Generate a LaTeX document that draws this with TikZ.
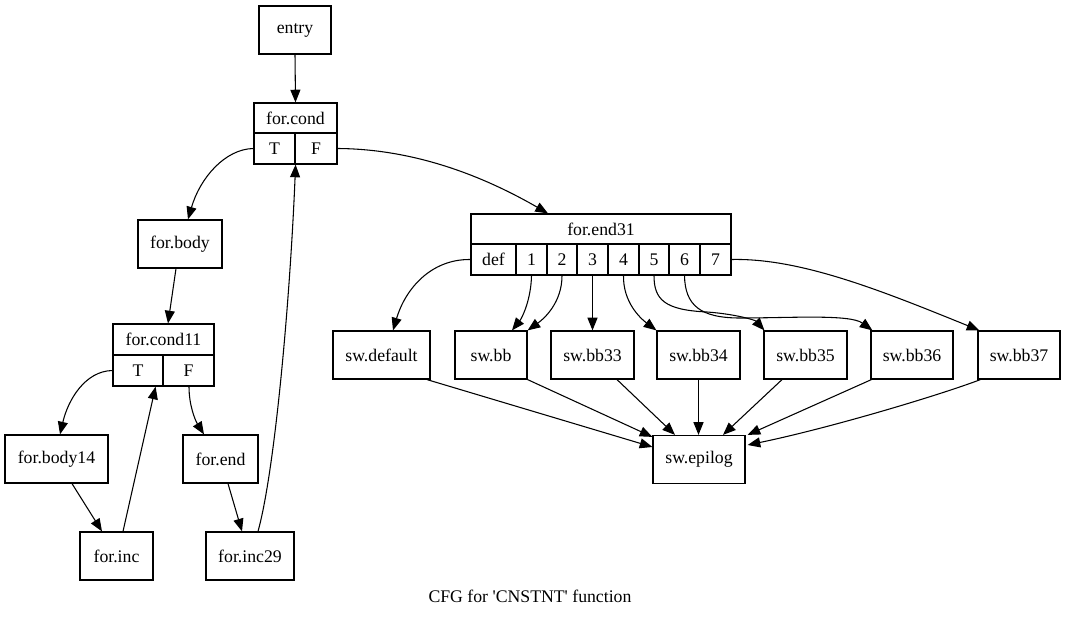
\documentclass[tikz,border=0pt]{standalone}
\usepackage{fontspec}
\setmainfont{Liberation Serif}
\usetikzlibrary{arrows.meta,calc}
\begin{document}
\begin{tikzpicture}[x=0.75pt,y=-0.75pt,
  lbl/.style={font=\fontsize{13.3}{16}\selectfont},
  box/.style={draw, line width=0.9pt, inner sep=0pt, minimum height=36pt, lbl},
  cell/.style={draw, line width=0.9pt, inner sep=0pt, minimum height=23.25pt, lbl},
  head/.style={draw, line width=0.9pt, inner sep=0pt, minimum height=22.5pt, lbl},
  edge/.style={line width=0.8pt, -{Triangle[length=9.5pt,width=7.5pt]}}]
\fill[white] (0,0) rectangle (1066,617);
\useasboundingbox (0,0) rectangle (1066,617);

% left part
\node[box, minimum width=54pt] (entry) at (295,30) {entry};
\node[head, minimum width=62.25pt] (cond) at (295.5,118) {for.cond};
\node[cell, minimum width=30.75pt] (condT) at (274.5,148.5) {T};
\node[cell, minimum width=31.5pt] (condF) at (316,148.5) {F};
\node[box, minimum width=63pt] (body) at (180,244) {for.body};
\node[cell, minimum width=75.75pt] (cond11) at (163.5,339.5) {for.cond11};
\node[cell, minimum width=37.5pt] (cond11T) at (138,370.5) {T};
\node[cell, minimum width=38.25pt] (cond11F) at (188.5,370.5) {F};
\node[box, minimum width=77.25pt] (body14) at (56.5,459) {for.body14};
\node[box, minimum width=56.25pt] (end) at (220.5,459) {for.end};
\node[box, minimum width=54.75pt] (inc) at (116.5,556) {for.inc};
\node[box, minimum width=66pt] (inc29) at (250,556) {for.inc29};

% switch record
\node[head, minimum width=195pt] (end31) at (601,229) {for.end31};
\node[cell, minimum width=33.75pt] (pdef) at (493.5,259.5) {def};
\node[cell, minimum width=23.25pt] (p1) at (531.5,259.5) {1};
\node[cell, minimum width=22.5pt] (p2) at (562,259.5) {2};
\node[cell, minimum width=23.25pt] (p3) at (592.5,259.5) {3};
\node[cell, minimum width=23.25pt] (p4) at (623.5,259.5) {4};
\node[cell, minimum width=22.5pt] (p5) at (654,259.5) {5};
\node[cell, minimum width=23.25pt] (p6) at (684.5,259.5) {6};
\node[cell, minimum width=23.25pt] (p7) at (715.5,259.5) {7};

\node[box, minimum width=72.75pt] (swdefault) at (381.5,355) {sw.default};
\node[box, minimum width=54pt] (swbb) at (491,355) {sw.bb};
\node[box, minimum width=62.25pt] (swbb33) at (592.5,355) {sw.bb33};
\node[box, minimum width=62.25pt] (swbb34) at (698.5,355) {sw.bb34};
\node[box, minimum width=62.25pt] (swbb35) at (805.5,355) {sw.bb35};
\node[box, minimum width=61.5pt] (swbb36) at (912,355) {sw.bb36};
\node[box, minimum width=61.5pt] (swbb37) at (1019,355) {sw.bb37};
\node[box, minimum width=69pt] (epilog) at (699,459.5) {sw.epilog};

\node[lbl] (title) at (530,596) {CFG for \textquotesingle CNSTNT\textquotesingle{} function};

% edges left
\draw[edge] (entry.south) -- (cond.north);
\draw[edge] (condT.west) .. controls (225,149) and (200,178) .. ($(body.north)+(8,0)$);
\draw[edge] (condF.east) .. controls (420,149) and (490,180) .. ($(end31.north)+(-53,0)$);
\draw[edge] ($(body.south)+(-4,0)$) -- ($(cond11.north)+(4.5,0)$);
\draw[edge] (cond11T.west) .. controls (85,371) and (68,400) .. ($(body14.north)+(3.5,0)$);
\draw[edge] ($(cond11F.south)+(0.5,0)$) .. controls (189,405) and (195,420) .. ($(end.north)+(-16.5,0)$);
\draw[edge] ($(body14.south)+(15.5,0)$) -- ($(inc.north)+(-14.5,0)$);
\draw[edge] ($(inc.north)+(6.5,0)$) -- ($(cond11T.south east)+(-8,0)$);
\draw[edge] ($(end.south)+(7.5,0)$) -- ($(inc29.north)+(-8,0)$);
\draw[edge] ($(inc29.north)+(8,0)$) .. controls (275,470) and (290,300) .. (condT.south east);

% switch edges
\draw[edge] (pdef.west) .. controls (430,259) and (405,290) .. ($(swdefault.north)+(11.5,0)$);
\draw[edge] (p1.south) .. controls (531,300) and (522,318) .. ($(swbb.north)+(21,0)$);
\draw[edge] (p2.south) .. controls (562,302) and (545,318) .. (swbb.north east);
\draw[edge] (p3.south) -- (swbb33.north);
\draw[edge] (p4.south) .. controls (623,302) and (640,318) .. (swbb34.north west);
\draw[edge] (p5.south) .. controls (654,300) and (665,310) .. (707,312)
  .. controls (735,314) and (755,320) .. ($(swbb35.north west)+(1,0)$);
\draw[edge] (p6.south) .. controls (685,305) and (700,318) .. (740,318)
  .. controls (790,318) and (850,314) .. ($(swbb36.north west)+(2,0)$);
\draw[edge] (p7.east) .. controls (800,258) and (880,290) .. ($(swbb37.north west)+(2,0)$);

% to epilog
\draw[edge] ($(swdefault.south)+(45.5,0)$) -- ($(epilog.west)+(0,-12.5)$);
\draw[edge] (swbb.south east) -- ($(epilog.north west)+(0,2)$);
\draw[edge] ($(swbb33.south)+(24.5,0)$) -- ($(epilog.north)+(-24,0)$);
\draw[edge] (swbb34.south) -- (swbb34.south |- epilog.north);
\draw[edge] ($(swbb35.south)+(-23.5,0)$) -- ($(epilog.north)+(24,0)$);
\draw[edge] ($(swbb36.south west)+(1,0)$) -- ($(epilog.north east)+(2,0)$);
\draw[edge] ($(swbb37.south west)+(3,0)$) .. controls (940,395) and (830,428) .. ($(epilog.east)+(2,-14.5)$);
\end{tikzpicture}
\end{document}
